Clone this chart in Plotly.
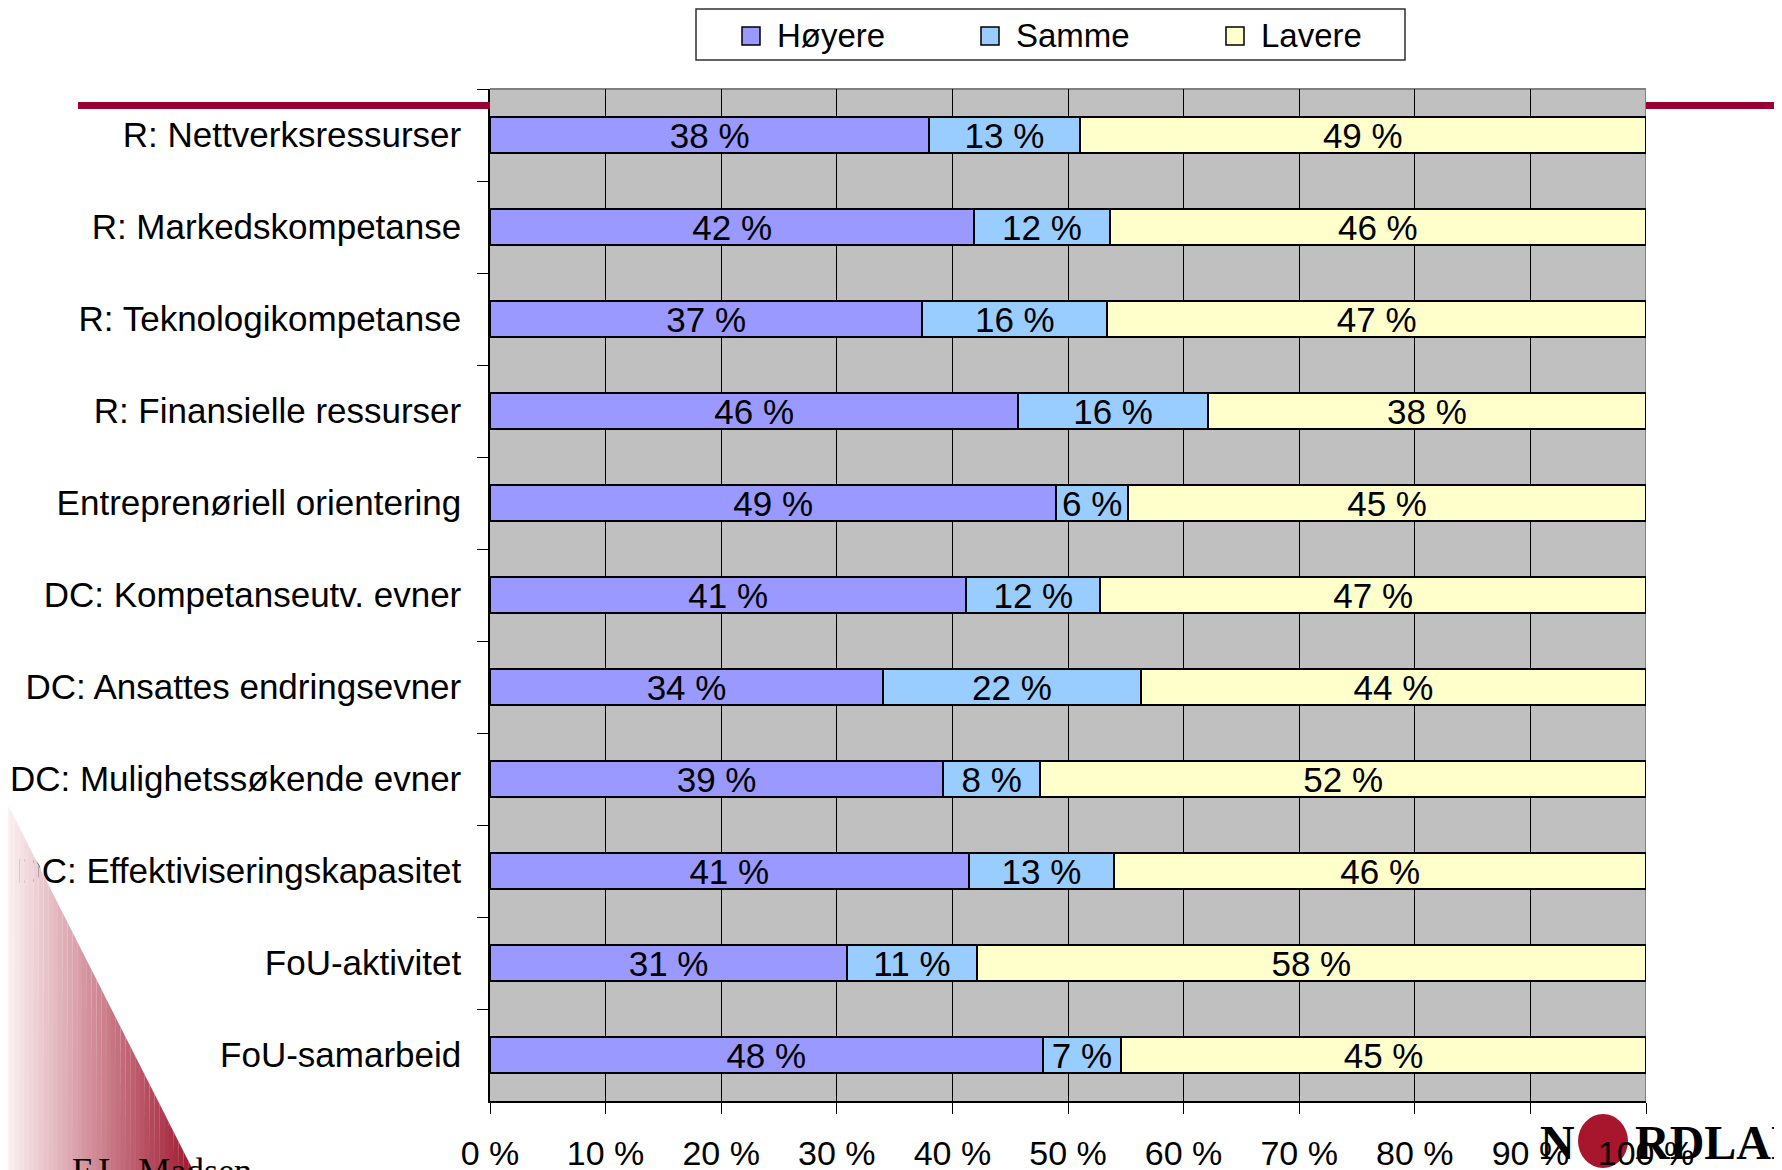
import plotly.graph_objects as go

# ---------------- data ----------------
categories = [
    "R: Nettverksressurser",
    "R: Markedskompetanse",
    "R: Teknologikompetanse",
    "R: Finansielle ressurser",
    "Entreprenøriell orientering",
    "DC: Kompetanseutv. evner",
    "DC: Ansattes endringsevner",
    "DC: Mulighetssøkende evner",
    "DC: Effektiviseringskapasitet",
    "FoU-aktivitet",
    "FoU-samarbeid",
]
hoyere = [38.0, 41.9, 37.4, 45.7, 49.0, 41.2, 34.0, 39.2, 41.4, 30.9, 47.8]
samme = [13.0, 11.7, 16.0, 16.4, 6.2, 11.6, 22.3, 8.4, 12.6, 11.2, 6.8]
lavere = [49.0, 46.4, 46.6, 37.9, 44.8, 47.2, 43.7, 52.4, 46.0, 57.9, 45.4]
series_names = ["Høyere", "Samme", "Lavere"]
tick_values = [0, 10, 20, 30, 40, 50, 60, 70, 80, 90, 100]
tick_labels = ["0 %", "10 %", "20 %", "30 %", "40 %", "50 %", "60 %", "70 %", "80 %", "90 %", "100 %"]

# ---------------- style ----------------
colors = ["#9999FF", "#99CCFF", "#FFFFCC"]
FONT = "Liberation Sans, Arial, sans-serif"
SERIF = "Liberation Serif, Times New Roman, serif"
FIG_W, FIG_H = 1782, 1170
OFF = 8  # page body margin offset
L, R, T, B = 482, 144, 81, 77
PW, PH = FIG_W - L - R, FIG_H - T - B


def px(xs):
    """screen x -> paper x"""
    return (xs - OFF - L) / PW


def py(ys):
    """screen y -> paper y"""
    return (FIG_H - B - (ys - OFF)) / PH


fig = go.Figure()
for name, vals, col in zip(series_names, [hoyere, samme, lavere], colors):
    fig.add_trace(go.Bar(
        y=categories, x=vals, name=name, orientation="h",
        marker=dict(color=col, line=dict(color="black", width=2)),
        text=[f"{round(v)} %" for v in vals],
        textposition="inside", insidetextanchor="middle", textangle=0,
        constraintext="none",
        textfont=dict(family=FONT, size=35, color="black"),
        showlegend=False, hoverinfo="skip",
    ))

shapes = []
annotations = []

# plot border top / right (gray)
shapes.append(dict(type="line", xref="x", yref="paper", x0=0, x1=100, y0=1, y1=1,
                   line=dict(color="#808080", width=2), layer="below"))
shapes.append(dict(type="line", xref="x", yref="paper", x0=100, x1=100, y0=0, y1=1,
                   line=dict(color="#808080", width=2), layer="below"))
# red header lines
shapes.append(dict(type="line", xref="paper", yref="paper", x0=px(78), x1=0, y0=py(105.5), y1=py(105.5),
                   line=dict(color="#990033", width=7)))
shapes.append(dict(type="line", xref="paper", yref="paper", x0=1, x1=px(1776), y0=py(105.5), y1=py(105.5),
                   line=dict(color="#990033", width=7)))

# legend (drawn box, swatches and names)
shapes.append(dict(type="rect", xref="paper", yref="paper",
                   x0=px(696), x1=px(1405), y0=py(60), y1=py(9),
                   fillcolor="white", line=dict(color="#303030", width=1.5)))
legend_sq_x = [742, 981, 1226]
for name, col, sx in zip(series_names, colors, legend_sq_x):
    shapes.append(dict(type="rect", xref="paper", yref="paper",
                       x0=px(sx), x1=px(sx + 18), y0=py(45), y1=py(27),
                       fillcolor=col, line=dict(color="black", width=1.5)))
    annotations.append(dict(text=name, xref="paper", yref="paper", x=px(sx + 33), y=py(35),
                            xanchor="left", yanchor="middle", showarrow=False,
                            font=dict(family=FONT, size=33, color="black")))

# gradient triangle bottom-left (decoration)
tx0, ty0, tx1, ty1 = 6, 801, 193, 1170
N = 40


def yh(x):
    if x <= tx0:
        return ty0
    return ty0 + (x - tx0) * (ty1 - ty0) / (tx1 - tx0)


c0 = (255, 250, 250)
c1 = (160, 24, 48)
for i in range(N):
    xa = tx1 * i / N
    xb = tx1 * (i + 1) / N
    t = (i + 0.5) / N
    col = "rgb({},{},{})".format(*[int(round(a + (b - a) * t)) for a, b in zip(c0, c1)])
    pts = [(xa, yh(xa)), (xb, yh(xb)), (xb + 0.6, FIG_H + 10), (xa, FIG_H + 10)]
    path = "M " + " L ".join(f"{px(x):.5f},{py(y):.5f}" for x, y in pts) + " Z"
    shapes.append(dict(type="path", xref="paper", yref="paper", path=path,
                       fillcolor=col, line=dict(width=0), layer="above"))

# logo circle (below axis labels, as in the reference)
cx, cy, rx, ry = 1603, 1141, 25, 27
shapes.append(dict(type="circle", xref="paper", yref="paper",
                   x0=px(cx - rx), x1=px(cx + rx), y0=py(cy + ry), y1=py(cy - ry),
                   fillcolor="#A8162E", line=dict(width=0), layer="below"))

annotations += [
    dict(text="F.L. Madsen", xref="paper", yref="paper", x=px(70), y=py(1149),
         xanchor="left", yanchor="top", showarrow=False,
         font=dict(family=SERIF, size=36, color="black")),
    dict(text="<b>N</b>", xref="paper", yref="paper", x=px(1538), y=py(1114),
         xanchor="left", yanchor="top", showarrow=False,
         font=dict(family=SERIF, size=48, color="black")),
    dict(text="<b>RDLAND</b>", xref="paper", yref="paper", x=px(1633), y=py(1114),
         xanchor="left", yanchor="top", showarrow=False,
         font=dict(family=SERIF, size=48, color="black")),
]

fig.update_layout(
    width=FIG_W, height=FIG_H,
    margin=dict(l=L, r=R, t=T, b=B, pad=0, autoexpand=False),
    paper_bgcolor="white", plot_bgcolor="#C0C0C0",
    barmode="stack", bargap=0.61,
    font=dict(family=FONT, size=34, color="black"),
    shapes=shapes, annotations=annotations,
    showlegend=False,
    xaxis=dict(range=[0, 100], tickvals=tick_values, ticktext=tick_labels,
               showgrid=True, gridcolor="black", gridwidth=1, zeroline=False,
               showline=True, linecolor="black", linewidth=1.5,
               ticks="outside", ticklen=11, tickcolor="black", tickwidth=1,
               ticklabelstandoff=10, automargin=False,
               tickfont=dict(family=FONT, size=34, color="black"), fixedrange=True),
    yaxis=dict(type="category", categoryorder="array", categoryarray=categories,
               autorange="reversed", showgrid=False, zeroline=False,
               showline=True, linecolor="black", linewidth=1.5,
               ticks="outside", tickson="boundaries", ticklen=11, tickcolor="black",
               tickwidth=1, ticklabelstandoff=20, automargin=False,
               tickfont=dict(family=FONT, size=35, color="black"), fixedrange=True),
)

fig.write_html("out.html")
